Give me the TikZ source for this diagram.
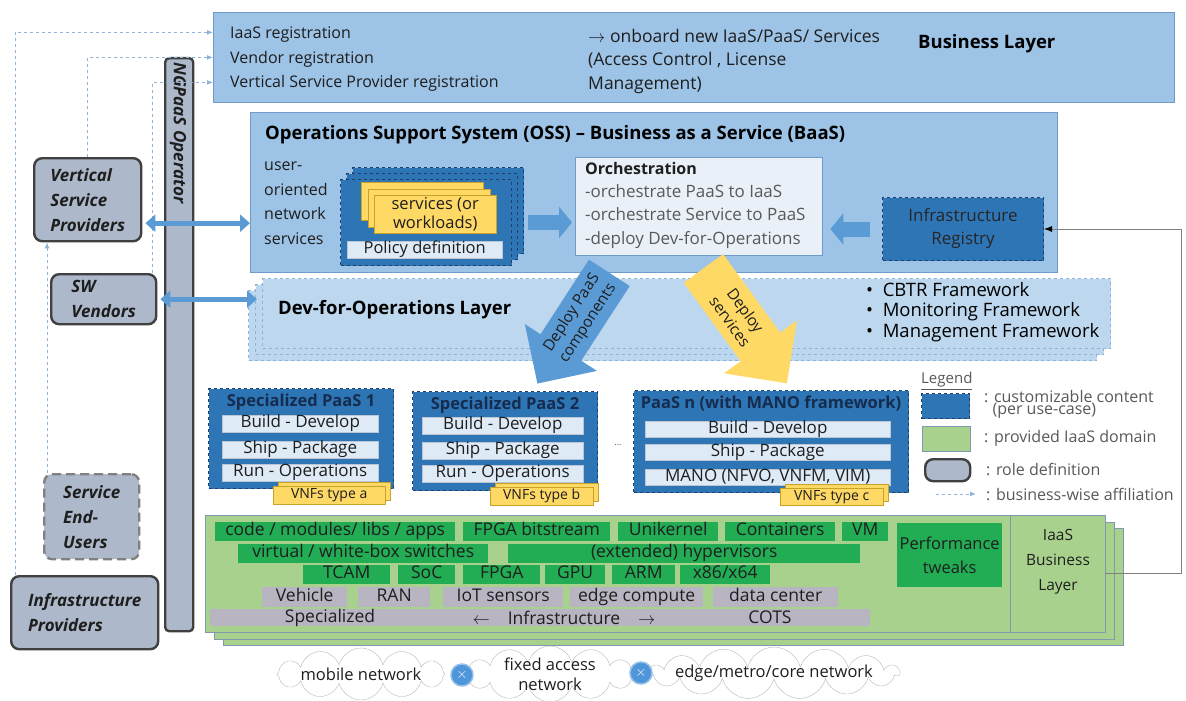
\documentclass[tikz,border=0pt]{standalone}
\usepackage{fontspec}
\setmainfont{Open Sans}
\usetikzlibrary{positioning,arrows.meta,shapes,shadows}

\definecolor{layerblue}{HTML}{9DC3E6}
\definecolor{layerline}{HTML}{6E9BCB}
\definecolor{devblue}{HTML}{BDD7EE}
\definecolor{devline}{HTML}{8DB3DA}
\definecolor{custblue}{HTML}{2E75B6}
\definecolor{custline}{HTML}{1F3F6F}
\definecolor{paleblue}{HTML}{DEEBF7}
\definecolor{orchfill}{HTML}{EAF0F8}
\definecolor{fatblue}{HTML}{5B9BD5}
\definecolor{wlyellow}{HTML}{FFD966}
\definecolor{wlline}{HTML}{C9A227}
\definecolor{rolefill}{HTML}{ADB9CA}
\definecolor{roleline}{HTML}{404040}
\definecolor{iaasgreen}{HTML}{A9D18E}
\definecolor{iaasline}{HTML}{7F9AAE}
\definecolor{hwgreen}{HTML}{22AD55}
\definecolor{infgray}{HTML}{B9B4C2}
\definecolor{affilblue}{HTML}{8FB4DC}
\definecolor{txtdark}{HTML}{1E1E1E}
\definecolor{txtgray}{HTML}{595959}
\definecolor{xblue}{HTML}{4E95D9}

\begin{document}
\begin{tikzpicture}[x=1pt,y=-1pt,
    corner/.style={anchor=north west,inner sep=0pt},
    layer/.style={corner,draw=layerline,fill=layerblue,line width=0.8pt},
    devlayer/.style={corner,draw=devline,fill=devblue,dashed,line width=1pt},
    cust/.style={corner,draw=custline,fill=custblue,dashed,line width=1pt},
    custcopy/.style={copy shadow={shadow xshift=#1,shadow yshift=#1,fill=custblue,draw=custline,dashed,line width=1pt}},
    slot/.style={corner,fill=paleblue,draw=custline!30,text=txtdark,text height=11.5pt,text depth=3pt,font=\fontsize{17}{17}\selectfont},
    work/.style={corner,fill=wlyellow,draw=wlline,text=txtdark,font=\fontsize{14}{17}\selectfont},
    role/.style={corner,draw=roleline,fill=rolefill,line width=2.4pt,rounded corners=8pt,align=left,text=txtdark,font=\fontsize{17}{25}\selectfont\bfseries\itshape},
    hw/.style={corner,fill=hwgreen,text=txtdark,text height=12pt,text depth=3.5pt,font=\fontsize{17.5}{17}\selectfont},
    inf/.style={hw,fill=infgray},
    txt/.style={anchor=west,inner sep=0pt,text=txtdark,font=\fontsize{16}{17}\selectfont},
    head/.style={anchor=west,inner sep=0pt,text=black,font=\fontsize{18.5}{20}\selectfont\bfseries},
    ptitle/.style={inner sep=0pt,text=custline!70!black,font=\fontsize{16.5}{17}\selectfont\bfseries},
    fat/.style={draw=fatblue,line width=15pt,-{Triangle[length=13pt,width=31pt]}},
    dbl/.style={draw=fatblue,line width=5pt,{Triangle[length=10pt,width=17pt]}-{Triangle[length=10pt,width=17pt]}},
    affil/.style={draw=affilblue,line width=1pt,dash pattern=on 3pt off 3pt,-{Latex[length=6pt,width=5pt]}},
    deploy/.style={single arrow,single arrow head extend=15pt,inner sep=2pt,align=center,text=txtdark,font=\fontsize{15.5}{19}\selectfont},
    cloudy/.style={cloud,cloud puffs=12,cloud ignores aspect,draw=gray!55,fill=white,inner sep=0pt},
    cloudtxt/.style={align=center,inner sep=0pt,text=txtdark,font=\fontsize{16.5}{20}\selectfont},
    cross/.style={circle,fill=xblue,draw=xblue!60,line width=1.5pt,minimum size=22pt,inner sep=0pt,text=white,font=\Large\bfseries}
]
\fill[white] (0,0) rectangle (1186,701);
\useasboundingbox (0,0) rectangle (1186,701);

\node[layer,minimum width=961,minimum height=90] (biz) at (213,12) {};
\node[txt,anchor=north west,align=left,font=\fontsize{16}{24.5}\selectfont] (bizreg) at (230,27) {IaaS registration\\Vendor registration\\Vertical Service Provider registration};
\node[txt,anchor=north west,align=left,font=\fontsize{17.5}{23.5}\selectfont] (onboard) at (588,29) {$\rightarrow$ onboard new IaaS/PaaS/ Services\\(Access Control , License\\Management)};
\node[head] (bizhead) at (918,44) {Business Layer};

\node[layer,minimum width=807,minimum height=160] (oss) at (250,112) {};
\node[head] (osshead) at (265,135) {Operations Support System (OSS) – Business as a Service (BaaS)};
\node[txt,anchor=north west,align=left,font=\fontsize{16}{24.5}\selectfont] (userns) at (264,162) {user-\\oriented\\network\\services};

\node[cust,minimum width=171,minimum height=86,custcopy=12pt,custcopy=6pt] (policy) at (340,179) {};
\node[work,minimum width=122,minimum height=38,align=center,font=\fontsize{16.5}{19}\selectfont,
  copy shadow={shadow xshift=-13pt,shadow yshift=13pt,fill=wlyellow,draw=wlline},
  copy shadow={shadow xshift=-6.5pt,shadow yshift=6.5pt,fill=wlyellow,draw=wlline}] (svc) at (374,195) {services (or\\workloads)};
\node[slot,minimum width=155,minimum height=17,font=\fontsize{16.5}{17}\selectfont] (poldef) at (347,241) {Policy definition};

\node[corner,fill=orchfill,draw=layerline,minimum width=247,minimum height=98] (orch) at (575,157) {};
\node[txt,anchor=north west,font=\fontsize{16}{17}\selectfont\bfseries] (orchhead) at (585,162) {Orchestration};
\node[txt,anchor=north west,align=left,text=txtgray,font=\fontsize{17}{23.5}\selectfont] (orchlines) at (585,184) {-orchestrate PaaS to IaaS\\-orchestrate Service to PaaS\\-deploy Dev-for-Operations};
\node[cust,minimum width=161,minimum height=63,align=center,text=black!85,font=\fontsize{17}{23}\selectfont] (reg) at (882,197) {Infrastructure\\Registry};

\draw[fat,shorten <=16pt,shorten >=3pt] (policy.east) -- (policy.east -| orch.west);
\draw[fat,shorten <=12pt,shorten >=8pt] (reg.west) -- (reg.west -| orch.east);

\node[devlayer,minimum width=848,minimum height=70,
  copy shadow={shadow xshift=-14pt,shadow yshift=-12pt,fill=devblue,draw=devline,dashed,line width=1pt},
  copy shadow={shadow xshift=-7pt,shadow yshift=-6pt,fill=devblue,draw=devline,dashed,line width=1pt}] (dev) at (262,278) {};
\node[head] (devhead) at (278,310) {Dev-for-Operations Layer};
\node[txt,anchor=north west,align=left,text=black,font=\fontsize{18.5}{20.5}\selectfont] (frameworks) at (866,282) {\textbullet\ \ CBTR Framework\\\textbullet\ \ Monitoring Framework\\\textbullet\ \ Management Framework};

\node[deploy,fill=fatblue,minimum width=86pt,minimum height=132pt,rotate=57,shape border rotate=180] (deploypaas) at (580,318) {Deploy PaaS\\components};
\node[deploy,fill=wlyellow,minimum width=90pt,minimum height=142pt,rotate=-54] (deploysvc) at (738,316) {Deploy\\services};

\node[cust,minimum width=185,minimum height=100] (paas1) at (208,388) {};
\node[ptitle,below=6pt of paas1.north] (paas1head) {Specialized PaaS 1};
\node[slot,minimum width=156,minimum height=17] (build1) at (222,415) {Build - Develop};
\node[slot,minimum width=156,minimum height=17] (ship1) at (222,441) {Ship - Package};
\node[slot,minimum width=156,minimum height=17] (run1) at (222,464) {Run - Operations};
\node[work,minimum width=112,minimum height=18,copy shadow={shadow xshift=5pt,shadow yshift=4pt,fill=wlyellow,draw=wlline}] (vnfa) at (273,486) {VNFs type a};

\node[cust,minimum width=185,minimum height=99] (paas2) at (412,391) {};
\node[ptitle,below=6pt of paas2.north] (paas2head) {Specialized PaaS 2};
\node[slot,minimum width=161,minimum height=17] (build2) at (422,417) {Build - Develop};
\node[slot,minimum width=161,minimum height=17] (ship2) at (422,442) {Ship - Package};
\node[slot,minimum width=161,minimum height=17] (run2) at (422,465) {Run - Operations};
\node[work,minimum width=103,minimum height=18,copy shadow={shadow xshift=5pt,shadow yshift=4pt,fill=wlyellow,draw=wlline}] (vnfb) at (490,487) {VNFs type b};

\node[inner sep=0pt,text=txtgray,font=\small] (dots) at (618,445) {...};

\node[cust,minimum width=275,minimum height=102] (paasn) at (633,390) {};
\node[ptitle,below=6pt of paasn.north] (paasnhead) {PaaS n (with MANO framework)};
\node[slot,minimum width=245,minimum height=16] (buildn) at (645,421) {Build - Develop};
\node[slot,minimum width=245,minimum height=16] (shipn) at (645,444) {Ship - Package};
\node[slot,minimum width=245,minimum height=16] (manon) at (645,469) {MANO (NFVO, VNFM, VIM)};
\node[work,minimum width=103,minimum height=17,copy shadow={shadow xshift=5pt,shadow yshift=4pt,fill=wlyellow,draw=wlline}] (vnfc) at (780,488) {VNFs type c};

\node[txt,text=txtgray,font=\fontsize{15}{16}\selectfont] (legend) at (921,381) {\underline{Legend}};
\node[cust,minimum width=48,minimum height=25] (lgcust) at (921,393) {};
\node[txt,anchor=north west,align=left,text=txtgray,font=\fontsize{16}{12.5}\selectfont] (lgcusttxt) at (984,390) {: customizable content\\\ \ (per use-case)};
\node[corner,fill=iaasgreen,draw=iaasline,minimum width=48,minimum height=25] (lggreen) at (922,426) {};
\node[txt,text=txtgray] (lggreentxt) at (984,438) {: provided IaaS domain};
\node[role,minimum width=45,minimum height=22] (lgrole) at (924,458) {};
\node[txt,text=txtgray] (lgroletxt) at (986,469) {: role definition};
\coordinate (lgfrom) at (936,494);
\coordinate (lgto) at (976,494);
\draw[affil] (lgfrom) -- (lgto);
\node[txt,text=txtgray] (lgaffil) at (986,494) {: business-wise affiliation};

\node[corner,fill=iaasgreen,draw=iaasline,minimum width=900,minimum height=117,
  copy shadow={shadow xshift=18pt,shadow yshift=-13pt,fill=iaasgreen,draw=iaasline},
  copy shadow={shadow xshift=9pt,shadow yshift=-7pt,fill=iaasgreen,draw=iaasline}] (iaas) at (205,515) {};
\node[corner,draw=iaasline,minimum width=95,minimum height=117] (iaasbl) at (1010,515) {};
\node[align=center,inner sep=0pt,text=txtdark,font=\fontsize{15.5}{25}\selectfont] (iaasbltxt) at (1058,562) {IaaS\\Business\\Layer};

\node[hw,minimum width=240,minimum height=19] (code) at (215,522) {code / modules/ libs / apps};
\node[hw,minimum width=147,minimum height=19] (bitstream) at (463,522) {FPGA bitstream};
\node[hw,minimum width=100,minimum height=19] (unikernel) at (618,522) {Unikernel};
\node[hw,minimum width=110,minimum height=19] (containers) at (725,522) {Containers};
\node[hw,minimum width=46,minimum height=19] (vm) at (842,522) {VM};
\node[hw,minimum width=250,minimum height=19] (switches) at (238,544) {virtual / white-box switches};
\node[hw,minimum width=352,minimum height=19] (hypervisors) at (508,544) {(extended) hypervisors};
\node[hw,minimum width=87,minimum height=19] (tcam) at (303,565) {TCAM};
\node[hw,minimum width=57,minimum height=19] (soc) at (398,565) {SoC};
\node[hw,minimum width=77,minimum height=19] (fpga) at (463,565) {FPGA};
\node[hw,minimum width=60,minimum height=19] (gpu) at (545,565) {GPU};
\node[hw,minimum width=63,minimum height=19] (arm) at (612,565) {ARM};
\node[hw,minimum width=90,minimum height=19] (xarch) at (680,565) {x86/x64};
\node[corner,fill=hwgreen,minimum width=105,minimum height=64,align=center,text=txtdark,font=\fontsize{16.5}{24}\selectfont] (perf) at (897,523) {Performance\\tweaks};
\node[inf,minimum width=85,minimum height=20] (vehicle) at (262,587) {Vehicle};
\node[inf,minimum width=72,minimum height=20] (ran) at (358,587) {RAN};
\node[inf,minimum width=120,minimum height=20] (iot) at (443,587) {IoT sensors};
\node[inf,minimum width=133,minimum height=20] (edge) at (570,587) {edge compute};
\node[inf,minimum width=125,minimum height=20] (dc) at (713,587) {data center};
\node[inf,minimum width=660,minimum height=17] (infbar) at (210,609) {};
\node[txt,anchor=center,font=\fontsize{17.5}{17}\selectfont] (specialized) at (330,617.5) {Specialized};
\node[txt,anchor=center,font=\fontsize{17.5}{17}\selectfont] (infra) at (564,617.5) {$\leftarrow$\hspace{18pt}Infrastructure\hspace{18pt}$\rightarrow$};
\node[txt,anchor=center,font=\fontsize{17.5}{17}\selectfont] (cots) at (770,617.5) {COTS};

\node[cloudy,minimum width=168,minimum height=52] (mobile) at (361,674) {};
\node[cloudtxt] (mobiletxt) at (mobile) {mobile network};
\node[cloudy,minimum width=168,minimum height=56] (fixed) at (550,674) {};
\node[cloudtxt] (fixedtxt) at (fixed) {fixed access\\network};
\node[cloudy,cloud puffs=15,minimum width=250,minimum height=52] (core) at (774,673) {};
\node[cloudtxt] (coretxt) at (core) {edge/metro/core network};
\node[cross] (xa) at (462,675) {$\times$};
\node[cross] (xb) at (641,673) {$\times$};

\node[role,minimum width=28,minimum height=573,rounded corners=4pt] (ngpaas) at (164,57) {};
\node[rotate=-90,anchor=west,inner sep=0pt,text=txtdark,font=\fontsize{17}{17}\selectfont\bfseries\itshape] (ngpaastxt) at (178,62) {NGPaaS Operator};

\node[role,minimum width=107,minimum height=83] (vsp) at (33,157) {Vertical\\Service\\Providers};
\node[role,minimum width=105,minimum height=50] (sw) at (50,273) {SW\\Vendors};
\node[role,draw=gray,dash pattern=on 9pt off 5pt,minimum width=95,minimum height=85] (seu) at (43,473) {Service\\End-\\Users};
\node[role,minimum width=147,minimum height=73] (ip) at (10,575) {Infrastructure\\Providers};

\draw[affil] ([xshift=5pt]ip.north west) |- ([yshift=25pt]biz.west);
\draw[affil] (vsp.north) |- (biz.west);
\draw[affil] ([xshift=-5pt]sw.north east) |- ([yshift=-25pt]biz.west);
\draw[affil] ([xshift=4pt]seu.north west) -- ([xshift=4pt]seu.north west |- vsp.south);

\draw[dbl,shorten <=3pt] ([yshift=-23.5pt]vsp.east) -- ([yshift=-23.5pt]vsp.east -| oss.west);
\draw[dbl,shorten <=3pt,shorten >=5pt] (sw.east) -- (sw.east -| dev.west);

\coordinate (rturn) at (1181,400);
\draw[gray,line width=0.8pt,-{Latex[length=8pt,width=6pt,black]}] (iaasbl.east) -- (iaasbl.east -| rturn) |- (reg.east);
\end{tikzpicture}
\end{document}
